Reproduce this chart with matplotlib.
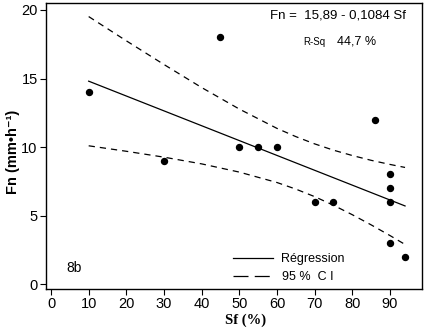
import matplotlib
matplotlib.use("Agg")
import matplotlib.pyplot as plt
from matplotlib.lines import Line2D

# Data
sf = [10, 30, 45, 50, 55, 60, 70, 75, 86, 90, 90, 90, 90, 94]
fn = [14, 9, 18, 10, 10, 10, 6, 6, 12, 8, 7, 6, 3, 2]

# Regression (Fn = 15,89 - 0,1084 Sf) drawn over range of data
reg_x = [10, 94]
intercept = 15.89
slope = -0.1084

# 95 % CI curves
ci_x = [10, 20, 30, 40, 50, 60, 65, 70, 75, 80, 85, 90, 94]
ci_upper = [19.52, 17.75, 16.02, 14.34, 12.77, 11.36, 10.76, 10.23, 9.77, 9.38, 9.03, 8.73, 8.51]
ci_lower = [10.09, 9.69, 9.26, 8.77, 8.17, 7.41, 6.93, 6.38, 5.75, 5.06, 4.32, 3.54, 2.89]

xticks = [0, 10, 20, 30, 40, 50, 60, 70, 80, 90]
yticks = [0, 5, 10, 15, 20]

plt.rcParams['font.family'] = ['Liberation Sans', 'DejaVu Sans']

fig = plt.figure(figsize=(4.27, 3.29), dpi=100)
ax = fig.add_axes([46/427, 1-289/329, (422-46)/427, (289-3)/329])

ax.plot(sf, fn, 'o', color='black', markersize=4.3, zorder=3)
reg_y = [intercept + slope * x for x in reg_x]
ax.plot(reg_x, reg_y, color='black', lw=0.9)
ax.plot(ci_x, ci_upper, color='black', lw=0.9, dashes=(5, 4))
ax.plot(ci_x, ci_lower, color='black', lw=0.9, dashes=(5, 4))

ax.set_xlim(-1.33, 98.5)
ax.set_ylim(-0.36, 20.51)
ax.set_xticks(xticks)
ax.set_yticks(yticks)
ax.tick_params(direction='out', length=4, width=0.8, labelsize=10.5, colors='black', pad=2)
for s in ax.spines.values():
    s.set_linewidth(1.0)

ax.set_ylabel('Fn (mm\u2022h\u207b\u00b9)', fontsize=10.5, fontweight='bold')
ax.yaxis.set_label_coords(-0.07, 0.48)
ax.set_xlabel('Sf (%)', fontsize=10.5, fontweight='bold', family=['Liberation Serif', 'DejaVu Serif'])
ax.xaxis.set_label_coords(0.53, -0.085)

ax.text(0.596, 0.955, 'Fn =  15,89 - 0,1084 Sf', transform=ax.transAxes, fontsize=9.5, va='center', ha='left')
ax.text(0.683, 0.865, 'R-Sq', transform=ax.transAxes, fontsize=7, va='center', ha='left')
ax.text(0.775, 0.865, '44,7 %', transform=ax.transAxes, fontsize=9, va='center', ha='left')
ax.text(0.055, 0.075, '8b', transform=ax.transAxes, fontsize=10, va='center', ha='left')

handles = [Line2D([0], [0], color='black', lw=0.9),
           Line2D([0], [0], color='black', lw=0.9, dashes=(12, 5))]
ax.legend(handles, ['Régression', '95 %  C I'], loc='lower left',
          bbox_to_anchor=((224-46)/376, -0.01), frameon=False, fontsize=9,
          handlelength=3.2, handletextpad=0.7, labelspacing=0.45, borderaxespad=0.3)

fig.savefig('out.png', dpi=100)
